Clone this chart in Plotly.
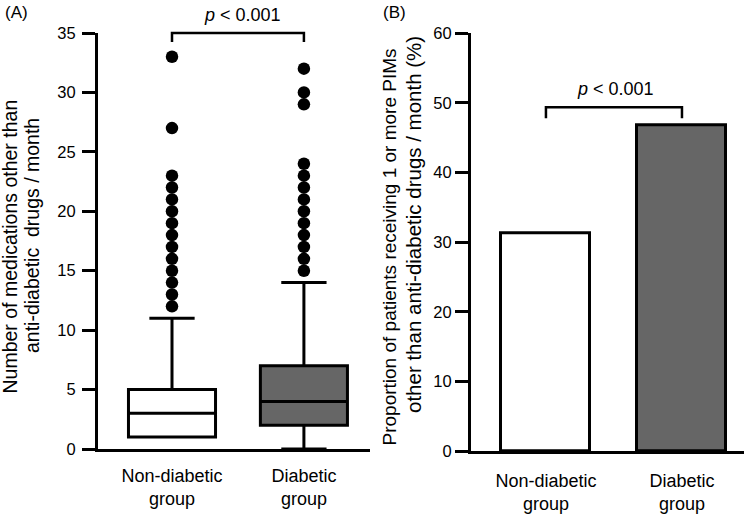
import plotly.graph_objects as go

# ---------------- data ----------------
groups = ["Non-diabetic<br>group", "Diabetic<br>group"]
group_pos = [0, 1]

# Panel A: box statistics (number of medications / month)
q1 = [1, 2]
median = [3, 4]
q3 = [5, 7]
lowerfence = [1, 0]
upperfence = [11, 14]
outliers_nondiabetic = [12, 13, 14, 15, 16, 17, 18, 19, 20, 21, 22, 23, 27, 33]
outliers_diabetic = [15, 16, 17, 18, 19, 20, 21, 22, 23, 24, 29, 30, 32]

# Panel B: proportion receiving >=1 PIM (%)
proportion = [31.3, 46.8]

fills = ["#ffffff", "#666666"]
p_text = "<i>p</i> < 0.001"

# ---------------- layout geometry ----------------
W, H = 744, 514
FONT = "Liberation Sans, Arial, sans-serif"

def px_x(p):
    return p / W

def px_y(p):
    return 1 - p / H

xA = [px_x(98), px_x(370)]
yA = [px_y(449), px_y(33)]
xB = [px_x(471), 1.0]
yB = [px_y(451.3), px_y(33.3)]

yA_range = [0, 35]
yB_range = [0, 60]
xA_range = [-0.561, 1.501]
xB_range = [-0.551, 1.456]

def to_paper(val, rng, dom):
    return dom[0] + (val - rng[0]) / (rng[1] - rng[0]) * (dom[1] - dom[0])

fig = go.Figure()

# Panel A boxes
for i in range(2):
    fig.add_trace(go.Box(
        x=[group_pos[i]], q1=[q1[i]], median=[median[i]], q3=[q3[i]],
        lowerfence=[lowerfence[i]], upperfence=[upperfence[i]],
        width=0.66, whiskerwidth=0.52, fillcolor=fills[i],
        line=dict(color="black", width=3), boxpoints=False,
        xaxis="x", yaxis="y", showlegend=False, hoverinfo="skip"))

for i, outs in enumerate([outliers_nondiabetic, outliers_diabetic]):
    fig.add_trace(go.Scatter(
        x=[group_pos[i]] * len(outs), y=outs, mode="markers",
        marker=dict(color="black", size=12.5, line=dict(width=0)),
        cliponaxis=False, xaxis="x", yaxis="y", showlegend=False))

# Panel B bars
fig.add_trace(go.Bar(
    x=group_pos, y=proportion, width=0.654,
    marker=dict(color=fills, line=dict(color="black", width=3)),
    xaxis="x2", yaxis="y2", showlegend=False))

# significance brackets
brA = dict(y=35.0, leg=34.25)
brB = dict(y=49.4, leg=47.8)
shapes = []
for xr, xrng, xdom, yrng, ydom, br in [
        ("x", xA_range, xA, yA_range, yA, brA),
        ("x2", xB_range, xB, yB_range, yB, brB)]:
    xl = to_paper(group_pos[0], xrng, xdom)
    xr_ = to_paper(group_pos[1], xrng, xdom)
    yt = to_paper(br["y"], yrng, ydom)
    yl = to_paper(br["leg"], yrng, ydom)
    shapes.append(dict(type="path", xref="paper", yref="paper",
                       path=f"M{xl},{yl} L{xl},{yt} L{xr_},{yt} L{xr_},{yl}",
                       line=dict(color="black", width=2.5)))

annotations = [
    dict(text=p_text, x=px_x(242), y=px_y(27), xref="paper", yref="paper",
         xanchor="center", yanchor="bottom", showarrow=False,
         font=dict(size=18, family=FONT, color="black")),
    dict(text=p_text, x=px_x(615), y=px_y(101), xref="paper", yref="paper",
         xanchor="center", yanchor="bottom", showarrow=False,
         font=dict(size=18, family=FONT, color="black")),
    dict(text="(A)", x=px_x(16), y=px_y(12), xref="paper", yref="paper",
         xanchor="center", yanchor="middle", showarrow=False,
         font=dict(size=17, family=FONT, color="black")),
    dict(text="(B)", x=px_x(394), y=px_y(12), xref="paper", yref="paper",
         xanchor="center", yanchor="middle", showarrow=False,
         font=dict(size=17, family=FONT, color="black")),
    # y titles
    dict(text="Number of medications other than", x=px_x(9.5), y=px_y(247),
         xref="paper", yref="paper", textangle=-90, xanchor="center",
         yanchor="middle", showarrow=False,
         font=dict(size=19.5, family=FONT, color="black")),
    dict(text="anti-diabetic  drugs / month", x=px_x(32), y=px_y(236),
         xref="paper", yref="paper", textangle=-90, xanchor="center",
         yanchor="middle", showarrow=False,
         font=dict(size=19.5, family=FONT, color="black")),
    dict(text="Proportion of patients receiving 1 or more PIMs", x=px_x(389),
         y=px_y(247.5), xref="paper", yref="paper", textangle=-90,
         xanchor="center", yanchor="middle", showarrow=False,
         font=dict(size=19, family=FONT, color="black")),
    dict(text="other than anti-diabetic drugs / month (%)", x=px_x(413),
         y=px_y(224), xref="paper", yref="paper", textangle=-90,
         xanchor="center", yanchor="middle", showarrow=False,
         font=dict(size=20.5, family=FONT, color="black")),
]

axis_common = dict(showline=True, linecolor="black", linewidth=3,
                   showgrid=False, zeroline=False, mirror=False,
                   automargin=False)

fig.update_layout(
    width=W, height=H, autosize=False,
    margin=dict(l=0, r=0, t=0, b=0, pad=0),
    paper_bgcolor="white", plot_bgcolor="white",
    font=dict(family=FONT, color="black"),
    shapes=shapes, annotations=annotations,
    xaxis=dict(domain=xA, range=xA_range, tickvals=group_pos, ticktext=groups,
               ticks="", ticklabelstandoff=8, anchor="y",
               tickfont=dict(size=18), **axis_common),
    yaxis=dict(domain=yA, range=yA_range, tickvals=list(range(0, 36, 5)),
               ticks="outside", ticklen=13, tickwidth=3, tickcolor="black",
               ticklabelstandoff=3, anchor="x",
               tickfont=dict(size=16.5), **axis_common),
    xaxis2=dict(domain=xB, range=xB_range, tickvals=group_pos, ticktext=groups,
                ticks="", ticklabelstandoff=11, anchor="y2",
                tickfont=dict(size=18), **axis_common),
    yaxis2=dict(domain=yB, range=yB_range, tickvals=list(range(0, 61, 10)),
                ticks="outside", ticklen=13, tickwidth=3, tickcolor="black",
                ticklabelstandoff=0, anchor="x2",
                tickfont=dict(size=16.5), **axis_common),
    bargap=0,
)

fig.write_html("out.html")
